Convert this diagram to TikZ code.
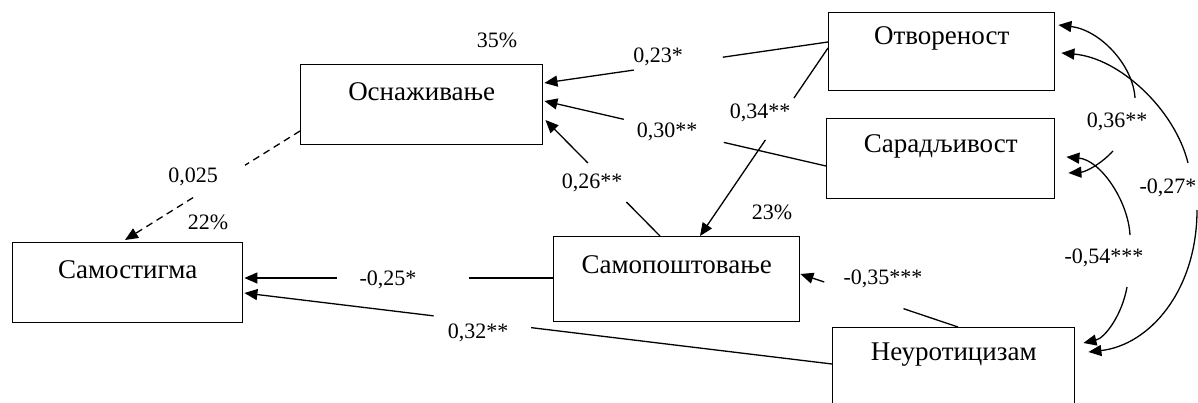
\documentclass[tikz,border=0pt]{standalone}
\usepackage{fontspec}
\setmainfont{Liberation Serif}
\usetikzlibrary{arrows.meta,calc}
\begin{document}
\begin{tikzpicture}[x=1pt,y=-1pt,
  box/.style={draw, line width=1.4pt, anchor=north west, inner sep=0pt},
  boxtext/.style={font=\fontsize{27}{32}\selectfont, inner sep=0pt},
  lbl/.style={font=\fontsize{22}{26}\selectfont, inner sep=0pt},
  ln/.style={line width=1.3pt},
  arr/.style={-{Triangle[length=13pt,width=11pt]}},
  arrs/.style={{Triangle[length=13pt,width=11pt]}-},
  dsh/.style={dash pattern=on 7pt off 5pt}]
\useasboundingbox (0,0) rectangle (1198,403);
\clip (0,0) rectangle (1198,403);
\fill[white] (0,0) rectangle (1198,403);
% boxes
\node[box, minimum width=242pt, minimum height=80pt] (osn) at (300,64) {};
\node[box, minimum width=226pt, minimum height=78pt] (otv) at (828,12) {};
\node[box, minimum width=228pt, minimum height=80pt] (sar) at (826,118) {};
\node[box, minimum width=230pt, minimum height=80pt] (sst) at (12,242) {};
\node[box, minimum width=246pt, minimum height=85pt] (spo) at (553,236) {};
\node[box, minimum width=242pt, minimum height=95pt] (neu) at (832,327) {};
\node[boxtext] (osnt) at ($(osn.north)+(0,28)$) {Оснаживање};
\node[boxtext] (otvt) at ($(otv.north)+(0,26)$) {Отвореност};
\node[boxtext] (sart) at ($(sar.north)+(0,28)$) {Сарадљивост};
\node[boxtext] (sstt) at ($(sst.north)+(0,28)$) {Самостигма};
\node[boxtext] (spot) at ($(spo.north)+(0,29)$) {Самопоштовање};
\node[boxtext] (neut) at ($(neu.north)+(0,28)$) {Неуротицизам};
% percentages
\node[lbl] (p35) at (497,40) {35\%};
\node[lbl] (p22) at (208,222) {22\%};
\node[lbl] (p23) at (772,212) {23\%};
% 1 otv -> osn
\coordinate (s1) at ($(otv.north west)+(0,30)$);
\coordinate (e1) at ($(osn.north east)+(1,19)$);
\path (s1) -- (e1) coordinate[pos=0.371] (a1) coordinate[pos=0.685] (b1);
\draw[ln] (s1) -- (a1);
\draw[ln,arr] (b1) -- (e1);
\node[lbl] (l1) at (658,57) {0,23*};
% 2 sar -> osn
\coordinate (s2) at ($(sar.north west)+(0,48)$);
\coordinate (e2) at ($(osn.north east)+(1,37)$);
\path (s2) -- (e2) coordinate[pos=0.363] (a2) coordinate[pos=0.718] (b2);
\draw[ln] (s2) -- (a2);
\draw[ln,arr] (b2) -- (e2);
\node[lbl] (l2) at (667,132) {0,30**};
% 3 spo -> osn
\coordinate (s3) at ($(spo.north west)+(107,0)$);
\coordinate (e3) at ($(osn.north east)+(2,56)$);
\path (s3) -- (e3) coordinate[pos=0.293] (a3) coordinate[pos=0.629] (b3);
\draw[ln] (s3) -- (a3);
\draw[ln,arr] (b3) -- (e3);
\node[lbl] (l3) at (592,183) {0,26**};
% 4 otv -> spo
\coordinate (s4) at ($(otv.north west)+(0,36)$);
\coordinate (e4) at ($(spo.north west)+(147,0)$);
\path (s4) -- (e4) coordinate[pos=0.266] (a4) coordinate[pos=0.489] (b4);
\draw[ln] (s4) -- (a4);
\draw[ln,arr] (b4) -- (e4);
\node[lbl] (l4) at (760,113) {0,34**};
% 5 spo -> sst
\coordinate (s5) at ($(spo.north west)+(0,42)$);
\coordinate (e5) at ($(sst.north east)+(1,36)$);
\path (s5) -- (e5) coordinate[pos=0.273] (a5) coordinate[pos=0.701] (b5);
\draw[ln] (s5) -- (a5);
\draw[ln,arr] (b5) -- (e5);
\node[lbl] (l5) at (388,280) {-0,25*};
% 6 neu -> sst
\coordinate (s6) at ($(neu.north west)+(0,37)$);
\coordinate (e6) at ($(sst.north east)+(1,51)$);
\path (s6) -- (e6) coordinate[pos=0.512] (a6) coordinate[pos=0.678] (b6);
\draw[ln] (s6) -- (a6);
\draw[ln,arr] (b6) -- (e6);
\node[lbl] (l6) at (478,333) {0,32**};
% 7 neu -> spo
\coordinate (s7) at ($(neu.north west)+(126,0)$);
\coordinate (e7) at ($(spo.north east)+(0,38)$);
\path (s7) -- (e7) coordinate[pos=0.346] (a7) coordinate[pos=0.849] (b7);
\draw[ln] (s7) -- (a7);
\draw[ln,arr] (b7) -- (e7);
\node[lbl] (l7) at (883,279) {-0,35***};
% 8 osn -> sst dashed
\coordinate (s8) at ($(osn.north west)+(0,67)$);
\coordinate (e8) at ($(sst.north west)+(113,-2)$);
\path (s8) -- (e8) coordinate[pos=0.314] (a8) coordinate[pos=0.611] (b8);
\draw[ln,dsh] (s8) -- (a8);
\draw[ln,dsh,arr] (b8) -- (e8);
\node[lbl] (l8) at (193,177) {0,025};
% curve otv <-> sar
\coordinate (c1s) at ($(otv.north east)+(3,13)$);
\coordinate (c1a) at (1135,98);
\coordinate (c1b) at (1113,151);
\coordinate (c1e) at ($(sar.north east)+(13,55)$);
\draw[ln,arrs] (c1s) .. controls (1100,30) and (1133,65) .. (c1a);
\draw[ln,arr] (c1b) .. controls (1100,165) and (1085,172) .. (c1e);
\node[lbl] (l9) at (1117,122) {0,36**};
% curve otv <-> neu
\coordinate (c2s) at ($(otv.north east)+(6,41)$);
\coordinate (c2a) at (1188,163);
\coordinate (c2b) at (1197,210);
\coordinate (c2e) at ($(neu.north east)+(13,25)$);
\draw[ln,arrs] (c2s) .. controls (1120,58) and (1175,110) .. (c2a);
\draw[ln,arr] (c2b) .. controls (1197,290) and (1150,345) .. (c2e);
\node[lbl] (l10) at (1168,188) {-0,27*};
% curve sar <-> neu
\coordinate (c3s) at ($(sar.north east)+(11,39)$);
\coordinate (c3a) at (1130,235);
\coordinate (c3b) at (1127,287);
\coordinate (c3e) at ($(neu.north east)+(8,16)$);
\draw[ln,arrs] (c3s) .. controls (1100,160) and (1128,200) .. (c3a);
\draw[ln,arr] (c3b) .. controls (1122,315) and (1105,338) .. (c3e);
\node[lbl] (l11) at (1104,258) {-0,54***};
\end{tikzpicture}
\end{document}
